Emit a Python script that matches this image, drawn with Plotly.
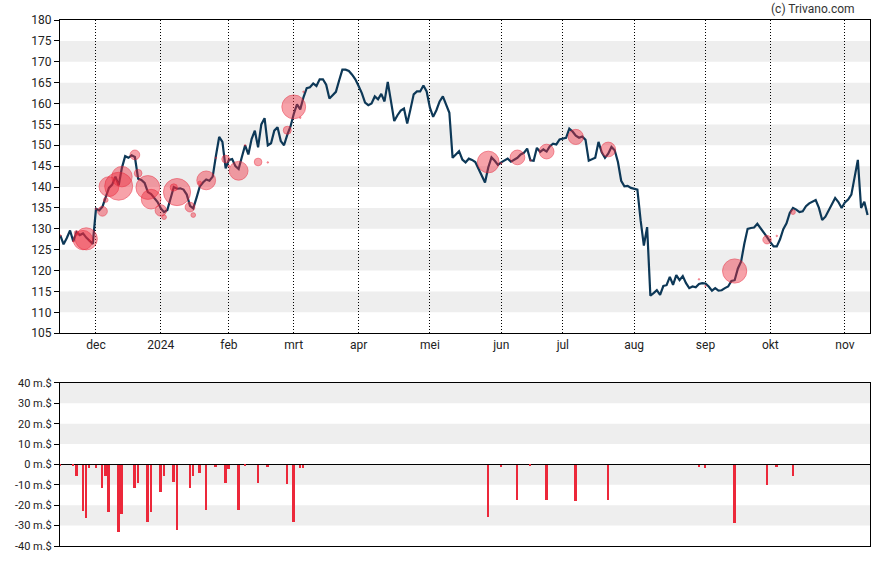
import pandas as pd
import plotly.graph_objects as go

# ---------------- data ----------------
holidays = ["2023-11-23", "2023-12-25", "2024-01-01", "2024-01-15", "2024-02-19",
            "2024-03-29", "2024-05-27", "2024-06-19", "2024-07-04", "2024-09-02"]
start_date = "2023-11-15"
end_date = "2024-11-12"

close_prices = [
    128.4, 126.3, 127.8, 129.6, 127.0, 129.2, 128.5, 128.9, 127.9, 127.2, 126.4,
    134.8, 134.4, 135.3, 137.5, 139.8, 140.6, 142.5, 140.4, 144.6, 147.4, 147.0, 147.6, 147.2,
    142.0, 141.7, 141.0, 138.8, 138.3, 137.3, 136.4,
    134.9, 134.0, 134.5, 137.3, 140.0, 139.6, 139.7, 139.4, 138.2, 135.5, 134.9, 137.4, 140.1,
    141.1, 141.8, 141.5, 142.5, 147.5, 152.0, 150.8, 144.5,
    146.5, 146.7, 145.0, 144.3, 147.2, 150.0, 147.8, 151.5, 153.5, 149.5, 155.0, 156.5, 150.0,
    150.5, 153.5, 154.3, 151.0, 150.0, 152.5, 154.5,
    157.5, 159.8, 158.6, 161.5, 163.7, 163.9, 164.8, 164.2, 165.8, 165.8, 164.5, 161.2, 162.0,
    162.8, 165.5, 168.1, 168.1, 167.8, 166.9, 165.8,
    164.2, 162.5, 160.2, 159.6, 160.0, 161.7, 161.0, 162.3, 160.5, 165.2, 160.5, 155.8, 157.2,
    158.3, 158.8, 155.2, 158.6, 162.2, 162.9, 162.9, 164.3, 162.9,
    159.0, 156.8, 158.4, 160.5, 161.7, 159.8, 157.8, 147.0, 147.8, 148.6, 146.6, 145.9, 146.8,
    146.5, 146.0, 144.3, 142.7, 141.1, 144.7, 147.1, 146.3, 145.3,
    145.9, 146.3, 146.8, 146.1, 146.6, 147.0, 147.8, 148.2, 149.2, 146.4, 146.3, 149.4, 148.4,
    149.0, 148.5, 149.8, 150.4, 150.2, 151.4,
    151.6, 151.8, 154.0, 153.3, 152.3, 151.8, 152.1, 151.3, 146.3, 146.6, 147.0, 150.8, 148.3,
    147.0, 148.0, 149.6, 148.8, 146.0, 141.5, 140.2, 140.3, 139.8,
    139.6, 139.4, 132.0, 126.0, 130.4, 114.0, 114.6, 115.3, 114.2, 116.3, 116.5, 118.5, 116.6,
    118.9, 117.7, 118.7, 117.0, 115.8, 116.2, 116.0, 116.8, 117.0,
    116.9, 116.2, 115.2, 115.8, 115.2, 115.3, 115.8, 116.2, 117.5, 117.7, 120.5, 122.2, 126.5,
    130.0, 130.2, 130.3, 131.2, 130.2, 129.0, 128.0,
    126.8, 125.8, 125.8, 127.5, 129.9, 131.3, 133.8, 135.0, 134.6, 134.0, 134.2, 135.4, 136.1,
    136.6, 136.9, 135.0, 132.1, 132.9, 134.5, 136.0, 137.4, 136.4, 135.0,
    136.3, 137.0, 138.2, 142.5, 146.5, 135.0, 136.5, 133.3,
]

trade_dates = [
    "2023-11-15", "2023-11-21", "2023-11-22", "2023-11-27", "2023-11-28", "2023-11-29",
    "2023-12-01", "2023-12-05", "2023-12-06", "2023-12-07", "2023-12-12", "2023-12-13",
    "2023-12-19", "2023-12-20", "2023-12-26", "2023-12-27", "2024-01-02", "2024-01-03",
    "2024-01-08", "2024-01-09", "2024-01-16", "2024-01-17", "2024-01-19", "2024-01-23",
    "2024-01-26", "2024-01-31", "2024-02-01", "2024-02-06", "2024-02-08", "2024-02-14",
    "2024-02-20", "2024-02-28", "2024-03-01", "2024-03-05", "2024-03-06",
    "2024-05-28", "2024-06-03", "2024-06-10", "2024-06-14", "2024-06-24", "2024-07-08",
    "2024-07-22", "2024-08-29", "2024-09-03", "2024-09-16", "2024-09-30", "2024-10-03",
    "2024-10-10",
]
trade_values = [
    -0.8, -0.8, -5.5, -22.8, -26.0, -1.6,
    -1.6, -11.4, -5.5, -23.3, -32.9, -24.1,
    -11.4, -9.0, -28.0, -23.1, -13.4, -5.5,
    -8.5, -31.9, -11.4, -5.5, -4.1, -22.1,
    -1.2, -9.0, -2.1, -22.1, -0.8, -9.0,
    -1.2, -9.4, -28.0, -1.6, -1.6,
    -25.5, -1.2, -17.3, -0.8, -17.3, -17.8,
    -17.3, -1.2, -1.6, -28.5, -9.9, -1.2,
    -5.5,
]
trade_prices = [
    128.4, 127.0, 129.0, 127.3, 127.6, 127.2,
    134.8, 134.2, 136.9, 140.1, 140.2, 142.5,
    147.7, 143.3, 139.9, 137.1, 134.4, 132.8,
    139.9, 138.8, 135.2, 133.3, 141.0, 141.6,
    147.0, 146.7, 145.0, 143.9, 150.0, 146.0,
    145.9, 153.6, 159.2, 156.6, 162.8,
    146.0, 145.7, 147.1, 146.4, 148.5, 152.0,
    149.0, 117.9, 116.3, 119.9, 127.4, 128.3,
    134.0,
]

month_labels = ["dec", "2024", "feb", "mrt", "apr", "mei", "jun", "jul", "aug", "sep", "okt", "nov"]
month_starts = ["2023-12", "2024-01", "2024-02", "2024-03", "2024-04", "2024-05",
                "2024-06", "2024-07", "2024-08", "2024-09", "2024-10", "2024-11"]

price_ticks = list(range(105, 181, 5))
flow_ticks = [40, 30, 20, 10, 0, -10, -20, -30, -40]
flow_labels = [f"{v} m.$" for v in flow_ticks]

# ---------------- derived ----------------
dates = pd.bdate_range(start_date, end_date, freq="C", holidays=holidays)
assert len(dates) == len(close_prices), (len(dates), len(close_prices))
date_index = {d.strftime("%Y-%m-%d"): i for i, d in enumerate(dates)}
x_idx = list(range(len(dates)))
date_text = [d.strftime("%Y-%m-%d") for d in dates]

trade_x = [date_index[d] for d in trade_dates]
month_tick_x = []
for m in month_starts:
    first = [i for i, d in enumerate(dates) if d.strftime("%Y-%m") == m][0]
    month_tick_x.append(first)

bubble_sizes = [max(1.5, abs(v) * 0.85) for v in trade_values]

FONT = "Roboto, Arial, sans-serif"
LINE_COLOR = "#0d3857"
RED = "rgb(236,40,58)"

fig = go.Figure()

fig.add_trace(go.Scatter(
    x=x_idx, y=close_prices, mode="lines", text=date_text,
    line=dict(color=LINE_COLOR, width=2.2), xaxis="x", yaxis="y",
    hovertemplate="%{text}: %{y}<extra></extra>", showlegend=False,
))
fig.add_trace(go.Scatter(
    x=trade_x, y=trade_prices, mode="markers", text=trade_dates,
    marker=dict(size=bubble_sizes, sizemode="diameter", color="rgba(238,42,60,0.62)",
                line=dict(color="rgba(232,35,55,0.75)", width=1)),
    xaxis="x", yaxis="y", showlegend=False,
))
fig.add_trace(go.Bar(
    x=trade_x, y=trade_values, width=0.6, marker=dict(color=RED, line=dict(width=0)),
    xaxis="x2", yaxis="y2", showlegend=False, text=trade_dates, textposition="none",
))

shapes = []
for lo in range(110, 180, 10):
    shapes.append(dict(type="rect", xref="paper", x0=0, x1=1, yref="y", y0=lo, y1=lo + 5,
                       fillcolor="#eeeeee", line=dict(width=0), layer="below"))
for y0, y1 in ((30, 40), (10, 20), (-10, 0), (-30, -20)):
    shapes.append(dict(type="rect", xref="paper", x0=0, x1=1, yref="y2", y0=y0, y1=y1,
                       fillcolor="#eeeeee", line=dict(width=0), layer="below"))

xr = [-0.1, 249.75]
fig.update_layout(
    width=888, height=565,
    margin=dict(l=60, r=18, t=20, b=16),
    paper_bgcolor="white", plot_bgcolor="white",
    font=dict(family=FONT, size=12, color="#222222"),
    shapes=shapes,
    bargap=0,
    xaxis=dict(domain=[0, 1], anchor="y", range=xr, tickmode="array",
               tickvals=month_tick_x, ticktext=month_labels,
               showgrid=True, gridcolor="#000000", griddash="1px,2px", gridwidth=1,
               showline=True, linecolor="#000000", linewidth=1, mirror=True,
               ticks="", zeroline=False, tickfont=dict(size=12, color="#222222")),
    yaxis=dict(domain=[0.4045, 1], anchor="x", range=[105, 180], tickmode="array",
               tickvals=price_ticks, showgrid=False, zeroline=False,
               showline=True, linecolor="#000000", linewidth=1, mirror=True,
               ticks="outside", ticklen=5, tickcolor="#000000",
               tickfont=dict(size=12, color="#222222")),
    xaxis2=dict(domain=[0, 1], anchor="y2", range=xr, matches="x", showticklabels=False,
                showgrid=False, showline=True, linecolor="#000000", linewidth=1, mirror=True,
                ticks="", zeroline=False),
    yaxis2=dict(domain=[0, 0.31], anchor="x2", range=[-40, 40], tickmode="array",
                tickvals=flow_ticks, ticktext=flow_labels, showgrid=False,
                zeroline=True, zerolinecolor="#000000", zerolinewidth=1,
                showline=True, linecolor="#000000", linewidth=1, mirror=True,
                ticks="outside", ticklen=5, tickcolor="#000000",
                tickfont=dict(size=11, color="#222222")),
    annotations=[dict(text="(c) Trivano.com", xref="paper", yref="paper", x=0.984, y=1.021,
                      xanchor="right", yanchor="middle", showarrow=False,
                      font=dict(size=12, color="#333333", family=FONT))],
)

# remove the page's default 8px body margin so the figure sits at the window origin
fig.write_html("out.html", config={"displayModeBar": False},
               post_script="document.body.style.margin='0';")
